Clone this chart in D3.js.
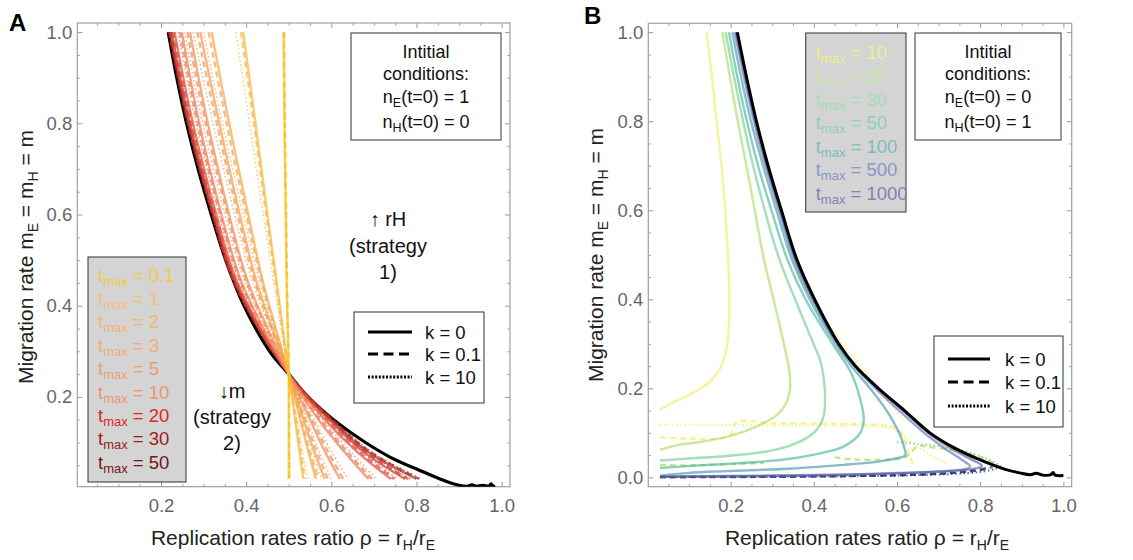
<!DOCTYPE html>
<html><head><meta charset="utf-8">
<script src="https://cdn.jsdelivr.net/npm/d3@7"></script>
<style>body{margin:0;background:#fff} svg{display:block} text{font-family:"Liberation Sans",Arial,sans-serif}</style>
</head><body><svg id="c" width="1133" height="560"></svg>
<script>
// ---------------- DATA ----------------
const majorTicks = [0.2, 0.4, 0.6, 0.8, 1.0];
const majorTicksB_y = [0.0, 0.2, 0.4, 0.6, 0.8, 1.0];

// Panel A: curves sampled at these m levels (rho values per curve)
const mLevelsA = [1.0, 0.8, 0.6, 0.45, 0.25, 0.15, 0.08, 0.02];
const tmaxA = ["0.1","1","2","3","5","10","20","30","50"];
const rhoA_k0 = [
  [0.488,0.490,0.493,0.495,0.500,0.500,0.500,0.500],
  [0.393,0.422,0.450,0.472,0.500,0.515,0.525,0.534],
  [0.319,0.360,0.405,0.440,0.500,0.527,0.546,0.564],
  [0.292,0.337,0.385,0.425,0.500,0.535,0.560,0.585],
  [0.268,0.310,0.360,0.405,0.500,0.550,0.585,0.620],
  [0.249,0.290,0.342,0.390,0.500,0.570,0.630,0.687],
  [0.232,0.275,0.330,0.380,0.500,0.585,0.660,0.740],
  [0.225,0.268,0.325,0.376,0.500,0.595,0.675,0.773],
  [0.220,0.264,0.322,0.373,0.500,0.600,0.685,0.800]
];
const rhoA_k01 = [
  [0.489,0.491,0.494,0.496,0.500,0.501,0.501,0.501],
  [0.388,0.418,0.447,0.470,0.500,0.517,0.528,0.538],
  [0.312,0.354,0.400,0.437,0.500,0.530,0.550,0.570],
  [0.285,0.331,0.380,0.421,0.500,0.539,0.566,0.592],
  [0.262,0.305,0.356,0.402,0.500,0.555,0.592,0.628],
  [0.244,0.286,0.339,0.388,0.500,0.575,0.637,0.695],
  [0.229,0.272,0.328,0.378,0.500,0.590,0.666,0.748],
  [0.223,0.266,0.323,0.375,0.500,0.598,0.680,0.780],
  [0.219,0.263,0.321,0.372,0.500,0.603,0.690,0.806]
];
const rhoA_k10 = [
  [0.487,0.489,0.492,0.495,0.500,0.501,0.502,0.503],
  [0.376,0.408,0.440,0.465,0.500,0.520,0.532,0.545],
  [0.300,0.344,0.393,0.432,0.500,0.534,0.556,0.578],
  [0.276,0.322,0.373,0.416,0.500,0.543,0.572,0.600],
  [0.255,0.298,0.350,0.398,0.500,0.560,0.600,0.640],
  [0.240,0.282,0.336,0.385,0.500,0.580,0.645,0.705],
  [0.227,0.270,0.326,0.377,0.500,0.592,0.672,0.755],
  [0.222,0.265,0.322,0.374,0.500,0.600,0.684,0.785],
  [0.218,0.262,0.320,0.371,0.500,0.605,0.693,0.812]
];
const blackA = [[0.217,1.0],[0.237,0.9],[0.26,0.8],[0.287,0.7],[0.318,0.6],[0.352,0.5],[0.395,0.4],[0.455,0.3],[0.5,0.25],[0.545,0.2],[0.605,0.15],[0.68,0.1],[0.75,0.062],[0.8,0.042],[0.855,0.02],[0.9,0.006],[0.92,0.004],[0.93,0.007],[0.94,0.004],[0.955,0.006],[0.97,0.004],[0.975,0.009],[0.98,0.004],[0.985,0.004]];

// Panel B
const tmaxB = ["10","20","30","50","100","500","1000"];
const curvesB_k0 = [
  [[0.142,1.0],[0.155,0.9],[0.166,0.8],[0.178,0.7],[0.187,0.6],[0.194,0.49],[0.197,0.4],[0.195,0.33],[0.188,0.28],[0.172,0.24],[0.15,0.215],[0.12,0.195],[0.094,0.182],[0.06,0.168],[0.03,0.152]],
  [[0.18,1.0],[0.198,0.9],[0.217,0.8],[0.238,0.7],[0.258,0.6],[0.28,0.49],[0.303,0.4],[0.328,0.3],[0.341,0.24],[0.343,0.2],[0.335,0.17],[0.315,0.143],[0.28,0.122],[0.235,0.104],[0.19,0.091],[0.13,0.08],[0.07,0.072],[0.03,0.062]],
  [[0.188,1.0],[0.208,0.9],[0.23,0.8],[0.254,0.7],[0.282,0.6],[0.317,0.49],[0.355,0.4],[0.399,0.3],[0.415,0.264],[0.424,0.22],[0.427,0.174],[0.423,0.136],[0.405,0.105],[0.37,0.082],[0.303,0.061],[0.19,0.048],[0.11,0.043],[0.03,0.038]],
  [[0.196,1.0],[0.216,0.9],[0.239,0.8],[0.266,0.7],[0.298,0.6],[0.336,0.49],[0.38,0.4],[0.445,0.3],[0.49,0.234],[0.512,0.174],[0.52,0.13],[0.511,0.099],[0.471,0.069],[0.415,0.054],[0.351,0.043],[0.271,0.035],[0.19,0.03],[0.11,0.026],[0.03,0.021]],
  [[0.204,1.0],[0.225,0.9],[0.249,0.8],[0.278,0.7],[0.31,0.6],[0.347,0.49],[0.39,0.4],[0.452,0.3],[0.49,0.25],[0.535,0.2],[0.575,0.15],[0.605,0.1],[0.618,0.065],[0.62,0.05],[0.6,0.043],[0.559,0.036],[0.471,0.028],[0.351,0.02],[0.19,0.014],[0.1,0.01],[0.03,0.004]],
  [[0.21,1.0],[0.232,0.9],[0.256,0.8],[0.284,0.7],[0.316,0.6],[0.353,0.49],[0.396,0.4],[0.457,0.3],[0.497,0.25],[0.548,0.2],[0.605,0.15],[0.665,0.1],[0.715,0.065],[0.755,0.04],[0.776,0.024],[0.76,0.018],[0.7,0.013],[0.5,0.007],[0.3,0.004],[0.03,0.002]],
  [[0.213,1.0],[0.235,0.9],[0.259,0.8],[0.287,0.7],[0.319,0.6],[0.356,0.49],[0.399,0.4],[0.458,0.3],[0.499,0.25],[0.555,0.2],[0.615,0.15],[0.675,0.1],[0.73,0.065],[0.775,0.042],[0.804,0.026],[0.79,0.02],[0.72,0.014],[0.5,0.006],[0.3,0.003],[0.03,0.001]]
];
// k = 0.1 (dashed) and k = 10 (dotted) traces in panel B: [series index, points]
const curvesB_k01 = [
  [0, [[0.03,0.09],[0.1,0.087],[0.18,0.088],[0.2,0.095],[0.215,0.124],[0.3,0.122],[0.45,0.12],[0.55,0.118],[0.6,0.11],[0.62,0.08],[0.63,0.05],[0.64,0.025]]],
  [1, [[0.03,0.028],[0.1,0.027],[0.2,0.03],[0.28,0.032]]],
  [1, [[0.45,0.045],[0.5,0.04],[0.58,0.04],[0.62,0.045],[0.65,0.07],[0.68,0.068],[0.75,0.058],[0.8,0.045],[0.84,0.03]]],
  [5, [[0.03,0.0],[0.3,0.001],[0.5,0.003],[0.7,0.008],[0.78,0.015],[0.82,0.022]]],
  [6, [[0.03,0.001],[0.3,0.002],[0.55,0.004],[0.72,0.009],[0.8,0.016],[0.83,0.024]]]
];
const curvesB_k10 = [
  [0, [[0.03,0.118],[0.15,0.118],[0.3,0.117],[0.45,0.116],[0.55,0.115],[0.6,0.105],[0.64,0.075],[0.68,0.05],[0.72,0.03]]],
  [0, [[0.36,0.46],[0.41,0.38],[0.47,0.3],[0.53,0.23],[0.58,0.17],[0.62,0.125]]],
  [2, [[0.6,0.08],[0.65,0.075],[0.7,0.07],[0.76,0.06],[0.82,0.04],[0.85,0.025]]],
  [4, [[0.03,0.001],[0.4,0.002],[0.65,0.005],[0.8,0.012],[0.84,0.02]]]
];
const blackB = [[0.216,1.0],[0.238,0.9],[0.262,0.8],[0.29,0.7],[0.322,0.6],[0.359,0.49],[0.402,0.4],[0.46,0.3],[0.5,0.25],[0.555,0.2],[0.618,0.15],[0.679,0.1],[0.74,0.065],[0.8,0.039],[0.86,0.018],[0.895,0.01],[0.92,0.006],[0.935,0.009],[0.95,0.005],[0.97,0.006],[0.975,0.011],[0.98,0.005],[1.0,0.004]];

const legendK = ["k = 0","k = 0.1","k = 10"];
const initA = ["Intitial","conditions:",["n","E","(t=0) = 1"],["n","H","(t=0) = 0"]];
const initB = ["Intitial","conditions:",["n","E","(t=0) = 0"],["n","H","(t=0) = 1"]];

// ---------------- STYLE ----------------
const lineColA = ["#f6c21c","#f6b843","#f4a84c","#f29c52","#ef8e56","#ec7e58","#e0503c","#c83c32","#a82c26"];
const textColA = ["#f3cb45","#f1c17a","#f0b679","#efae77","#eda070","#eb9470","#d62a20","#a01d1b","#761616"];
const lineColB = ["#f3ec5a","#a8db5e","#6ccb8a","#3fb39a","#3a95a8","#4f72b0","#5e4f9e"];
const textColB = ["#eeee8e","#c9e5a4","#a6dcb4","#8fcfb8","#7fbbbe","#8797c6","#8780b6"];
const dashes = [null, "6,4", "1.5,2.6"];

const svg = d3.select("#c");
const FONT = '"Liberation Sans", Arial, sans-serif';

function panel(cfg){
  const {x, y, yMajors} = cfg;
  const g = svg.append("g");
  const [x0,x1] = x.range(), [y0,y1] = y.range();
  const minX = d3.range(0.05, 1.0001, 0.05).map(v=>+v.toFixed(2)).filter(v=>v>=x.domain()[0] && v<=x.domain()[1] && !majorTicks.includes(v));
  const minY = d3.range(0.05, 1.0001, 0.05).map(v=>+v.toFixed(2)).filter(v=>v>=y.domain()[0] && v<=y.domain()[1] && !yMajors.some(m=>Math.abs(m-v)<1e-6));
  const mk = [()=>d3.axisBottom(x), ()=>d3.axisTop(x), ()=>d3.axisLeft(y), ()=>d3.axisRight(y)];
  const tr = [`translate(0,${y0})`, `translate(0,${y1})`, `translate(${x0},0)`, `translate(${x1},0)`];
  mk.forEach((f, i)=>{
    const maj = i<2 ? majorTicks : yMajors, mn = i<2 ? minX : minY, lab = (i===0||i===2);
    const a1 = f().tickValues(maj).tickSizeInner(-5).tickSizeOuter(0)
      .tickPadding(i<2?12:5).tickFormat(lab ? d3.format(".1f") : "");
    const ga = g.append("g").attr("transform", tr[i]).call(a1);
    ga.select(".domain").remove();
    ga.selectAll("line").attr("stroke","#9a9a9a");
    ga.selectAll("text").attr("fill","#666").style("font-size","18.5px").style("font-family",FONT);
    const gb = g.append("g").attr("transform", tr[i]).call(f().tickValues(mn).tickSizeInner(-2.5).tickSizeOuter(0).tickFormat(""));
    gb.select(".domain").remove();
    gb.selectAll("line").attr("stroke","#9a9a9a");
  });
  g.append("rect").attr("x",x0).attr("y",y1).attr("width",x1-x0).attr("height",y0-y1)
    .attr("fill","none").attr("stroke","#a0a0a0").attr("stroke-width",1.2);
  const clip = "clip"+cfg.id;
  svg.append("clipPath").attr("id",clip).append("rect").attr("x",x0).attr("y",y1).attr("width",x1-x0).attr("height",y0-y1);
  const plot = svg.append("g").attr("clip-path",`url(#${clip})`);
  return {g, plot};
}

function draw(sel, pts, x, y, color, dash, width, op){
  const line = d3.line().x(d=>x(d[0])).y(d=>y(d[1])).curve(d3.curveCatmullRom.alpha(0.5));
  sel.append("path").attr("d", line(pts)).attr("fill","none").attr("stroke",color)
    .attr("stroke-width",width).attr("stroke-opacity",op).attr("stroke-dasharray",dash)
    .attr("stroke-linejoin","round");
}

function subText(sel, parts, size, subSize, shift){
  parts.forEach((p,i)=>{
    const t = sel.append("tspan").text(p);
    if(i%2===1){ t.attr("font-size",subSize).attr("dy",shift); }
    else { t.attr("font-size",size); if(i>0) t.attr("dy",-shift); }
  });
}

// ---------- Panel A ----------
const xA = d3.scaleLinear().domain([0.0035,1.0195]).range([77.3,510]);
const yA = d3.scaleLinear().domain([0.003,1.02]).range([486.7,23]);
const A = panel({id:"A", x:xA, y:yA, yMajors:majorTicks});
draw(A.plot, blackA, xA, yA, "#000", null, 3.2, 1);
for(let i=tmaxA.length-1;i>=0;i--){
  [rhoA_k10, rhoA_k01, rhoA_k0].forEach((arr, j)=>{
    const k = 2-j;
    const pts = mLevelsA.map((m,q)=>[arr[i][q], m]);
    draw(A.plot, pts, xA, yA, lineColA[i], dashes[k], k===2?1.6:2.4, 0.72);
  });
}

// ---------- Panel B ----------
const xB = d3.scaleLinear().domain([0.002,1.02]).range([648.3,1071.7]);
const yB = d3.scaleLinear().domain([-0.021,1.02]).range([486.7,23.3]);
const B = panel({id:"B", x:xB, y:yB, yMajors:majorTicksB_y});
curvesB_k10.forEach(([s,pts])=>draw(B.plot, pts, xB, yB, s>=4?"#243a78":lineColB[s], dashes[2], 2, 0.75));
curvesB_k01.forEach(([s,pts])=>draw(B.plot, pts, xB, yB, s>=5?"#1e3068":lineColB[s], dashes[1], 2.2, 0.7));
curvesB_k0.forEach((pts,i)=>draw(B.plot, pts, xB, yB, lineColB[i], null, 2.4, 0.62));
draw(B.plot, blackB, xB, yB, "#000", null, 3, 1);

// ---------- Titles ----------
function axisTitles(cx, cyLabelX, cy){
  const t = svg.append("text").attr("x",cx).attr("y",545).attr("text-anchor","middle")
    .attr("fill","#222").style("font-family",FONT);
  subText(t, ["Replication rates ratio ρ = r","H","/r","E",""], 21, 14, 5);
  const ty = svg.append("text").attr("transform",`translate(${cyLabelX},${cy}) rotate(-90)`)
    .attr("text-anchor","middle").attr("fill","#222").style("font-family",FONT);
  subText(ty, ["Migration rate m","E"," = m","H"," = m"], 21, 14, 5);
}
axisTitles(293, 33, 257);
axisTitles(867, 603, 255);

svg.append("text").attr("x",9).attr("y",31).text("A").attr("font-weight","bold").attr("font-size",24).style("font-family",FONT);
svg.append("text").attr("x",584).attr("y",24).text("B").attr("font-weight","bold").attr("font-size",24).style("font-family",FONT);

// ---------- Legends ----------
function initBox(x0,x1,lines){
  svg.append("rect").attr("x",x0).attr("y",33).attr("width",x1-x0).attr("height",107)
    .attr("fill","#fff").attr("stroke","#333").attr("stroke-width",1);
  const cx=(x0+x1)/2, ys=[58,80,103,128];
  lines.forEach((l,i)=>{
    const t = svg.append("text").attr("x",cx).attr("y",ys[i]).attr("text-anchor","middle").attr("fill","#111").style("font-family",FONT);
    if(typeof l==="string") t.attr("font-size",18).text(l);
    else subText(t, l, 18, 12.5, 4);
  });
}
initBox(351,501,initA);
initBox(915,1061,initB);

function tmaxBox(x0,x1,y0,y1,yc0,step,labels,cols){
  svg.append("rect").attr("x",x0).attr("y",y0).attr("width",x1-x0).attr("height",y1-y0)
    .attr("fill","#d4d4d4").attr("stroke","#333").attr("stroke-width",1);
  labels.forEach((l,i)=>{
    const t = svg.append("text").attr("x",x0+10).attr("y",yc0+i*step+6.5).attr("fill",cols[i]).style("font-family",FONT);
    subText(t, ["t","max"," = "+l], 18.5, 13, 4);
  });
}
tmaxBox(88,186,257,482,275,23.4,tmaxA,textColA);
tmaxBox(805.7,906,33,212,52,23.5,tmaxB,textColB);

function kBox(x0,x1,y0,y1,rows,lx0,lx1,tx){
  svg.append("rect").attr("x",x0).attr("y",y0).attr("width",x1-x0).attr("height",y1-y0)
    .attr("fill","#fff").attr("stroke","#333").attr("stroke-width",1);
  legendK.forEach((k,i)=>{
    svg.append("line").attr("x1",lx0).attr("x2",lx1).attr("y1",rows[i]).attr("y2",rows[i])
      .attr("stroke","#000").attr("stroke-width",3).attr("stroke-dasharray",i===0?null:i===1?"10,5.5":"2,1.6");
    svg.append("text").attr("x",tx).attr("y",rows[i]+6.5).text(k).attr("font-size",18.5).attr("fill","#111").style("font-family",FONT);
  });
}
kBox(354,484,312,403,[332,354,377],368,412,425);
kBox(934,1063,336,427,[359,382,406],948,990,1005);

// ---------- Annotations ----------
[["↑ rH",226],["(strategy",253],["1)",279]].forEach(([s,yy])=>
  svg.append("text").attr("x",388).attr("y",yy).attr("text-anchor","middle").attr("font-size",20).attr("fill","#111").style("font-family",FONT).text(s));
[["↓m",398],["(strategy",424],["2)",450]].forEach(([s,yy])=>
  svg.append("text").attr("x",232).attr("y",yy).attr("text-anchor","middle").attr("font-size",20).attr("fill","#111").style("font-family",FONT).text(s));
</script></body></html>
